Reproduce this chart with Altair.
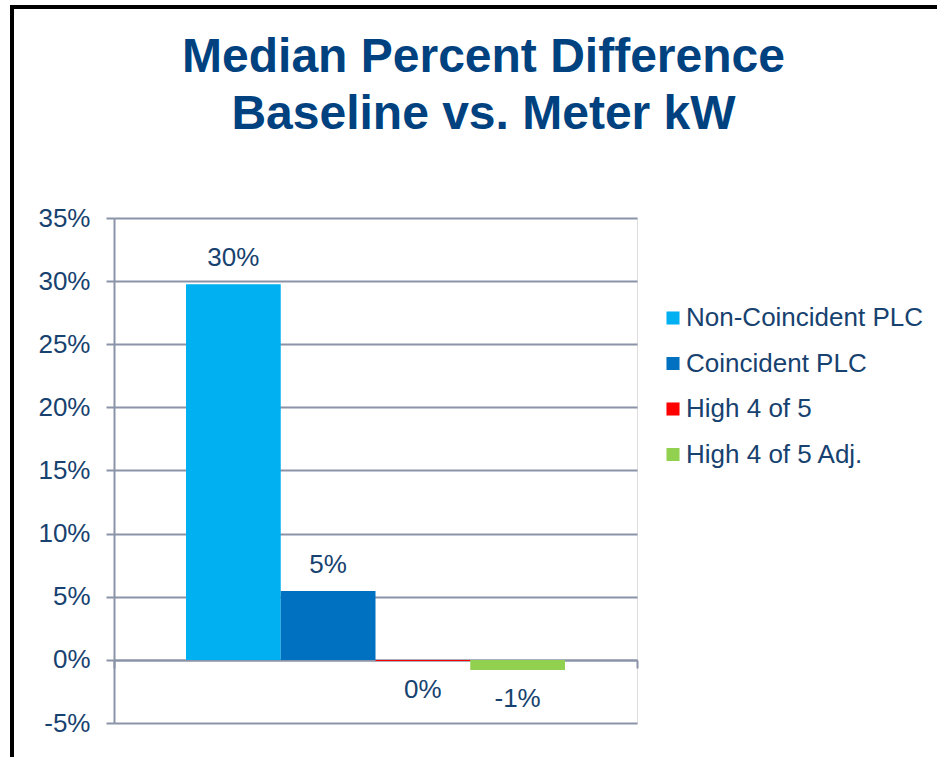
import altair as alt
import pandas as pd

# Series shown in the clustered bar group
series = ["Non-Coincident PLC", "Coincident PLC", "High 4 of 5", "High 4 of 5 Adj."]
values = [0.2975, 0.0546, -0.0008, -0.008]
colors = ["#00B0F0", "#0070C0", "#FF0000", "#92D050"]
y_ticks = [-0.05, 0.0, 0.05, 0.10, 0.15, 0.20, 0.25, 0.30, 0.35]

df = pd.DataFrame({"group": ["Median"] * len(series), "series": series, "value": values})

TEXT = "#17426F"
TITLE = "#00427F"
GRID = "#8A93A8"
FONT = "Liberation Sans"

x_enc = alt.X(
    "group:N",
    scale=alt.Scale(paddingInner=0, paddingOuter=0),
    axis=alt.Axis(
        title=None, labels=False, orient="bottom", offset=-63,
        domain=True, domainColor=GRID, domainWidth=2,
        ticks=True, tickBand="extent", tickSize=8, tickColor=GRID, tickWidth=2,
        grid=False,
    ),
)
xoff_enc = alt.XOffset(
    "series:N", sort=series,
    scale=alt.Scale(paddingInner=0, paddingOuter=0.76),
)
y_scale = alt.Scale(domain=[-0.05, 0.35], nice=False, zero=False)

base = alt.Chart(df)

bars = base.mark_bar(cornerRadius=0).encode(
    x=x_enc,
    xOffset=xoff_enc,
    y=alt.Y(
        "value:Q", scale=y_scale,
        axis=alt.Axis(
            title=None, values=y_ticks, format=".0%",
            labelExpr="replace(datum.label, '\u2212', '-')",
            grid=True, gridColor=GRID, gridWidth=2,
            domain=True, domainColor=GRID, domainWidth=2,
            ticks=True, tickSize=8, tickColor=GRID, tickWidth=2,
            labelPadding=16, labelFontSize=26, labelColor=TEXT, labelFont=FONT,
        ),
    ),
    color=alt.Color(
        "series:N", sort=series,
        scale=alt.Scale(domain=series, range=colors),
        legend=alt.Legend(
            title=None, orient="none", legendX=546, legendY=87,
            symbolType="square", symbolSize=170, symbolStrokeWidth=0,
            labelFontSize=26, labelColor=TEXT, labelFont=FONT,
            labelOffset=0, rowPadding=19.5, labelLimit=400, padding=0,
        ),
    ),
)

label_calc = "replace(format(round(datum.value * 100) / 100 + 0, '.0%'), '\u2212', '-')"

pos_labels = base.transform_filter("datum.value >= 0").transform_calculate(
    label=label_calc
).mark_text(fontSize=26, font=FONT, color=TEXT, baseline="middle", dy=-26).encode(
    x=x_enc, xOffset=xoff_enc, y=alt.Y("value:Q", scale=y_scale), text="label:N"
)

neg_labels = base.transform_filter("datum.value < 0").transform_calculate(
    label=label_calc
).mark_text(fontSize=26, font=FONT, color=TEXT, baseline="middle", dy=29).encode(
    x=x_enc, xOffset=xoff_enc, y=alt.Y("value:Q", scale=y_scale), text="label:N"
)

# Black outline around the whole chart area
frame = alt.Chart(pd.DataFrame({"k": [0]})).mark_rect(
    fillOpacity=0, stroke="black", strokeWidth=4
).encode(
    x=alt.value(-102), x2=alt.value(900), y=alt.value(-211), y2=alt.value(600)
)

chart = alt.layer(bars, pos_labels, neg_labels, frame).properties(
    width=523,
    height=505,
    autosize=alt.AutoSizeParams(type="none"),
    padding={"left": 114, "top": 218, "right": 300, "bottom": 34},
    title=alt.TitleParams(
        text=["Median Percent Difference", "Baseline vs. Meter kW"],
        fontSize=48, font=FONT, fontWeight="bold", color=TITLE,
        anchor="middle", frame="group", dx=108, lineHeight=57,
        baseline="top", offset=-134,
    ),
).configure_view(stroke=None).configure(background="white")

chart.save("out.html", embed_options={"renderer": "svg", "actions": False})
